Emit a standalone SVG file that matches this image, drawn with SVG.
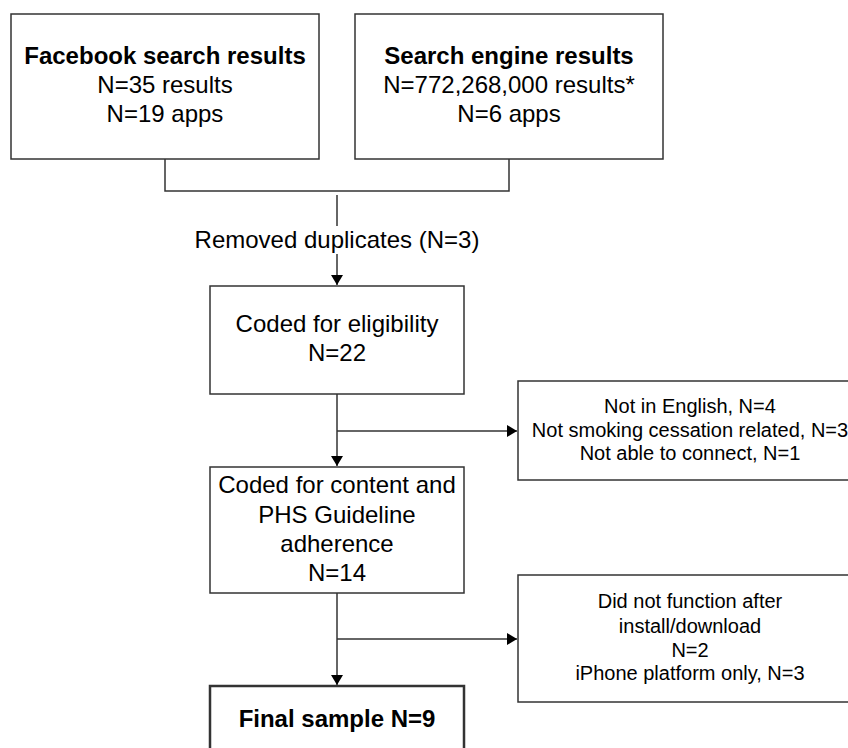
<svg xmlns="http://www.w3.org/2000/svg" width="848" height="748" viewBox="0 0 848 748">
<defs>
<marker id="arr" markerWidth="12" markerHeight="12" refX="10" refY="6" orient="auto" markerUnits="userSpaceOnUse">
<path d="M0,0 L10,6 L0,12 Z" fill="#000"/>
</marker>
<style>
.box{fill:#fff;stroke:#333;stroke-width:1.5}
.bold{stroke-width:2.5}
.ln{fill:none;stroke:#333;stroke-width:1.5}
text{font-family:"Liberation Sans",Arial,sans-serif;fill:#000;text-anchor:middle}
.t24{font-size:24px}
.b24{font-size:24px;font-weight:bold}
.t20{font-size:20px}
</style>
</defs>
<rect width="848" height="748" fill="#fff"/>
<g id="connectors">
<polyline class="ln" points="165,159 165,191 509,191 509,159"/>
<line class="ln" x1="337" y1="195" x2="337" y2="226"/>
<line class="ln" x1="337" y1="254" x2="337" y2="285" marker-end="url(#arr)"/>
<line class="ln" x1="337" y1="394" x2="337" y2="466" marker-end="url(#arr)"/>
<line class="ln" x1="337" y1="431" x2="517" y2="431" marker-end="url(#arr)"/>
<line class="ln" x1="337" y1="593" x2="337" y2="685" marker-end="url(#arr)"/>
<line class="ln" x1="337" y1="639" x2="517" y2="639" marker-end="url(#arr)"/>
<text class="t24" x="337" y="248">Removed duplicates (N=3)</text>
</g>
<g id="facebook">
<rect class="box" x="11" y="14" width="308" height="145"/>
<text class="b24" x="165" y="64">Facebook search results</text>
<text class="t24" x="165" y="93">N=35 results</text>
<text class="t24" x="165" y="122">N=19 apps</text>
</g>
<g id="searchengine">
<rect class="box" x="355" y="14" width="308" height="145"/>
<text class="b24" x="509" y="64">Search engine results</text>
<text class="t24" x="509" y="93">N=772,268,000 results*</text>
<text class="t24" x="509" y="122">N=6 apps</text>
</g>
<g id="eligibility">
<rect class="box" x="210" y="286" width="254" height="108"/>
<text class="t24" x="337" y="332">Coded for eligibility</text>
<text class="t24" x="337" y="361">N=22</text>
</g>
<g id="excluded1">
<rect class="box" x="518" y="381" width="360" height="99"/>
<text class="t20" x="690" y="413">Not in English, N=4</text>
<text class="t20" x="690" y="437">Not smoking cessation related, N=3</text>
<text class="t20" x="690" y="460">Not able to connect, N=1</text>
</g>
<g id="content">
<rect class="box" x="210" y="467" width="254" height="126"/>
<text class="t24" x="337" y="493">Coded for content and</text>
<text class="t24" x="337" y="523">PHS Guideline</text>
<text class="t24" x="337" y="552">adherence</text>
<text class="t24" x="337" y="581">N=14</text>
</g>
<g id="excluded2">
<rect class="box" x="518" y="575" width="360" height="127"/>
<text class="t20" x="690" y="608">Did not function after</text>
<text class="t20" x="690" y="633">install/download</text>
<text class="t20" x="690" y="657">N=2</text>
<text class="t20" x="690" y="680">iPhone platform only, N=3</text>
</g>
<g id="final">
<rect class="box bold" x="210" y="686" width="254" height="80"/>
<text class="b24" x="337" y="727">Final sample N=9</text>
</g>
</svg>
